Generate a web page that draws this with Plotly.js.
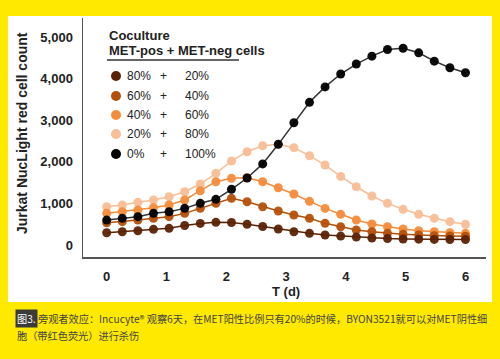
<!DOCTYPE html>
<html>
<head>
<meta charset="utf-8">
<script src="https://cdn.plot.ly/plotly-3.0.1.min.js"></script>
<style>html,body{margin:0;padding:0;background:#FFE900;}#chart{width:500px;height:359px;}</style>
</head>
<body>
<div id="chart"></div>
<script>
// Time points: 24 scans over 6 days
const nPoints = 24;
const days = 6;
const timeDays = Array.from({length: nPoints}, (_, i) => i * days / (nPoints - 1));

const seriesNames = ["20% + 80%", "40% + 60%", "60% + 40%", "80% + 20%", "0% + 100%"];
const metPos = ["80%", "60%", "40%", "20%", "0%"];
const metNeg = ["20%", "40%", "60%", "80%", "100%"];

const pos20neg80 = [920, 962, 1026, 1082, 1161, 1281, 1466, 1723, 2019, 2243, 2387, 2420, 2340, 2147, 1923, 1650, 1401, 1178, 1002, 858, 738, 641, 561, 497];
const pos40neg60 = [761, 801, 841, 897, 962, 1082, 1305, 1522, 1603, 1618, 1522, 1377, 1226, 1050, 880, 738, 601, 505, 440, 385, 344, 320, 296, 281];
const pos60neg40 = [536, 561, 601, 641, 681, 761, 881, 1002, 1122, 1041, 921, 817, 721, 641, 521, 440, 360, 320, 281, 257, 240, 224, 216, 210];
const pos80neg20 = [296, 320, 344, 377, 401, 470, 520, 545, 540, 500, 445, 385, 320, 281, 240, 215, 190, 170, 155, 145, 140, 135, 132, 130];
const pos0neg100 = [600, 641, 681, 761, 801, 881, 1002, 1098, 1340, 1610, 1950, 2420, 2940, 3430, 3800, 4110, 4350, 4540, 4700, 4730, 4620, 4420, 4260, 4140];

const colors = {
  p80: "#5A2204",
  p60: "#B4500A",
  p40: "#F58C3C",
  p20: "#F8BE96",
  p0: "#000000"
};

function tr(y, color, name, lineColor) {
  return {
    x: timeDays, y: y, name: name, type: "scatter", mode: "lines+markers",
    line: {color: lineColor || color, width: 1.5},
    marker: {color: color, size: 9, opacity: 0.95},
    showlegend: false, hoverinfo: "x+y+name"
  };
}

const data = [
  tr(pos20neg80, colors.p20, seriesNames[0]),
  tr(pos40neg60, colors.p40, seriesNames[1]),
  tr(pos60neg40, colors.p60, seriesNames[2]),
  tr(pos80neg20, colors.p80, seriesNames[3]),
  tr(pos0neg100, colors.p0, seriesNames[4], "#333333")
];

// layout geometry (pixels)
const L = 83, R = 14, T = 18, B = 102, W = 500, H = 359;
const pw = W - L - R, ph = H - T - B;
const px = x => (x - L) / pw;
const py = y => (H - B - y) / ph;

const font = "Liberation Sans, Arial, sans-serif";
const cjk = "Noto Sans CJK SC, sans-serif";

const annotations = [
  {xref: "paper", yref: "paper", x: px(22), y: py(133), text: "<b>Jurkat NucLight red cell count</b>",
   textangle: -90, showarrow: false, xanchor: "center", yanchor: "middle",
   font: {family: font, size: 14, color: "#222"}},
  {xref: "x", yref: "paper", x: 3, y: py(291), text: "<b>T (d)</b>", showarrow: false,
   xanchor: "center", yanchor: "middle", font: {family: font, size: 13, color: "#222"}},
  {xref: "paper", yref: "paper", x: px(107), y: py(35), text: "<b>Coculture</b>", showarrow: false,
   xanchor: "left", yanchor: "middle", font: {family: font, size: 13, color: "#222"}},
  {xref: "paper", yref: "paper", x: px(107), y: py(51), text: "<b>MET-pos + MET-neg cells</b>", showarrow: false,
   xanchor: "left", yanchor: "middle", font: {family: font, size: 13, color: "#222"}},
  {xref: "paper", yref: "paper", x: px(15), y: py(318), text: "图3.", showarrow: false,
   xanchor: "left", yanchor: "middle", bgcolor: "#3a3a3a", borderpad: 1,
   font: {family: cjk, size: 10.2, color: "#ffffff"}},
  {xref: "paper", yref: "paper", x: px(36), y: py(318),
   text: "旁观者效应：Incucyte® 观察6天，在MET阳性比例只有20%的时候，BYON3521就可以对MET阴性细",
   showarrow: false, xanchor: "left", yanchor: "middle", font: {family: cjk, size: 10.2, color: "#444"}},
  {xref: "paper", yref: "paper", x: px(15), y: py(335), text: "胞（带红色荧光）进行杀伤",
   showarrow: false, xanchor: "left", yanchor: "middle", font: {family: cjk, size: 10.2, color: "#444"}}
];

const legendRows = [76, 96, 115, 134, 154];
const legendColors = [colors.p80, colors.p60, colors.p40, colors.p20, colors.p0];
const shapes = [
  {type: "rect", xref: "paper", yref: "paper", x0: px(8), x1: px(492), y0: py(302), y1: py(16),
   fillcolor: "#ffffff", line: {width: 0}, layer: "below"},
  {type: "line", xref: "paper", yref: "paper", x0: px(107), x1: px(239), y0: py(60), y1: py(60),
   line: {color: "#333", width: 1.5}}
];
legendRows.forEach((yy, i) => {
  shapes.push({type: "circle", xref: "paper", yref: "paper",
    x0: px(111), x1: px(121), y0: py(yy + 5), y1: py(yy - 5),
    fillcolor: legendColors[i], line: {width: 0}});
  annotations.push({xref: "paper", yref: "paper", x: px(125), y: py(yy), text: metPos[i], showarrow: false,
    xanchor: "left", yanchor: "middle", font: {family: font, size: 12, color: "#222"}});
  annotations.push({xref: "paper", yref: "paper", x: px(163), y: py(yy), text: "+", showarrow: false,
    xanchor: "center", yanchor: "middle", font: {family: font, size: 12, color: "#222"}});
  annotations.push({xref: "paper", yref: "paper", x: px(183), y: py(yy), text: metNeg[i], showarrow: false,
    xanchor: "left", yanchor: "middle", font: {family: font, size: 12, color: "#222"}});
});

const layout = {
  width: W, height: H,
  margin: {l: L, r: R, t: T, b: B, pad: 0},
  paper_bgcolor: "#FFE900",
  plot_bgcolor: "#ffffff",
  showlegend: false,
  xaxis: {
    range: [-0.396, 6.343], tickvals: [0, 1, 2, 3, 4, 5, 6], ticktext: ["0", "1", "2", "3", "4", "5", "6"],
    showgrid: false, zeroline: false, showline: true, linecolor: "#555", linewidth: 1.5,
    ticks: "outside", ticklen: 7, tickcolor: "rgba(0,0,0,0)",
    tickfont: {family: font, size: 13, color: "#222", weight: "bold"}
  },
  yaxis: {
    range: [-288, 5457], tickvals: [0, 1000, 2000, 3000, 4000, 5000],
    ticktext: ["0", "1,000", "2,000", "3,000", "4,000", "5,000"],
    showgrid: false, zeroline: false, showline: true, linecolor: "#555", linewidth: 1.5,
    ticks: "outside", ticklen: 6, tickcolor: "rgba(0,0,0,0)",
    tickfont: {family: font, size: 13, color: "#222", weight: "bold"}
  },
  annotations: annotations,
  shapes: shapes
};

Plotly.newPlot("chart", data, layout, {staticPlot: true, displayModeBar: false});
</script>
</body>
</html>
